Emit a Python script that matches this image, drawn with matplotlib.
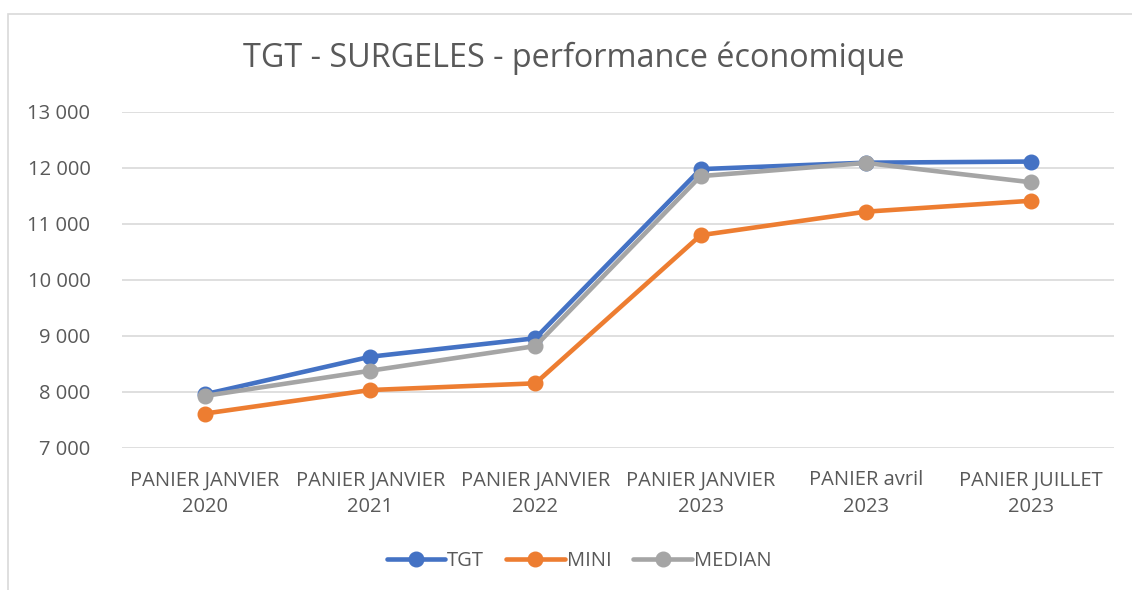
import matplotlib
matplotlib.use("Agg")
import matplotlib.pyplot as plt
from matplotlib.patches import Rectangle
from matplotlib.ticker import FuncFormatter

categories = ["PANIER JANVIER\n2020", "PANIER JANVIER\n2021", "PANIER JANVIER\n2022",
              "PANIER JANVIER\n2023", "PANIER avril\n2023", "PANIER JUILLET\n2023"]
tgt = [7960, 8630, 8960, 11980, 12095, 12115]
mini = [7615, 8035, 8155, 10800, 11220, 11415]
median = [7930, 8380, 8820, 11855, 12090, 11745]
title = "TGT - SURGELES - performance économique"

W, H = 1132, 590
plt.rcParams['font.family'] = ['Open Sans', 'DejaVu Sans']
fig = plt.figure(figsize=(W / 100, H / 100), dpi=100)
fig.patch.set_facecolor("white")

# outer chart border
fig.patches.append(Rectangle((7.5 / W, -0.1), 1.2, (H - 13.5) / H + 0.1,
                             transform=fig.transFigure, fill=False,
                             edgecolor="#d9d9d9", linewidth=1.2))

left, right = 122.4 / W, 1113.6 / W
bottom, top = (H - 448) / H, (H - 112) / H
ax = fig.add_axes([left, bottom, right - left, top - bottom])

x = list(range(len(categories)))
for vals, col, name in [(tgt, "#4472C4", "TGT"), (mini, "#ED7D31", "MINI"),
                        (median, "#A5A5A5", "MEDIAN")]:
    ax.plot(x, vals, color=col, linewidth=3.3, marker="o", markersize=10.5,
            label=name, solid_capstyle="round", zorder=3)

ax.set_xlim(-0.5, len(categories) - 0.5)
ax.set_ylim(7000, 13000)
ax.set_yticks(range(7000, 13001, 1000))
ax.yaxis.set_major_formatter(FuncFormatter(lambda v, p: f"{int(v):,}".replace(",", " ")))
ax.set_xticks(x)
ax.set_xticklabels(categories)
ax.grid(axis="y", color="#d9d9d9", linewidth=1.2)
ax.set_axisbelow(True)
for s in ax.spines.values():
    s.set_visible(False)
ax.tick_params(axis="both", length=0, colors="#595959", labelsize=14.5)
ax.tick_params(axis="y", pad=23)
ax.tick_params(axis="x", pad=16)
for lbl in ax.get_xticklabels():
    lbl.set_linespacing(1.45)

fig.text(574 / W, (H - 58) / H, title, ha="center", va="center",
         fontsize=23.3, color="#595959")

leg = fig.legend(loc="center", bbox_to_anchor=(579 / W, (H - 561) / H), ncol=3,
                 frameon=False, fontsize=14.5, handlelength=2.9, handletextpad=0.1,
                 columnspacing=1.1, labelcolor="#595959")

fig.savefig("out.png", dpi=100, facecolor="white")
